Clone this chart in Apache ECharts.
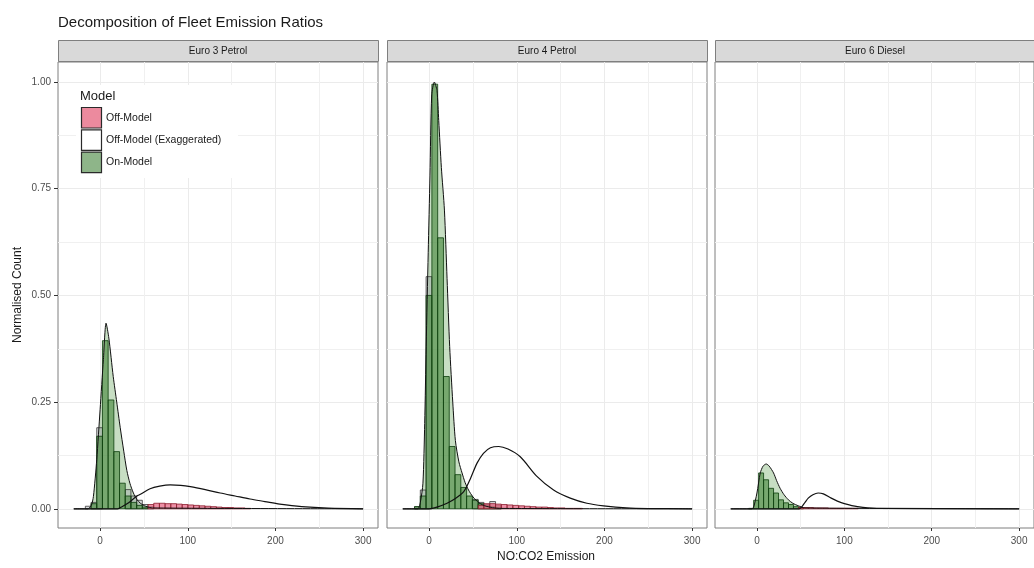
<!DOCTYPE html>
<html>
<head>
<meta charset="utf-8">
<script src="https://cdn.jsdelivr.net/npm/echarts@6/dist/echarts.min.js"></script>
<style>
  html, body { margin: 0; padding: 0; background: #fff; }
  #chart { width: 1034px; height: 568px; }
</style>
</head>
<body>
<div id="chart"></div>
<script>
// ---- data ----
var panelNames = ['Euro 3 Petrol', 'Euro 4 Petrol', 'Euro 6 Diesel'];
var legendNames = ['Off-Model', 'Off-Model (Exaggerated)', 'On-Model'];
var xTicks = [0, 100, 200, 300];
var xMinorTicks = [50, 150, 250];
var yTicks = [0, 0.25, 0.5, 0.75, 1];
var yMinorTicks = [0.125, 0.375, 0.625, 0.875];

// histogram bins: left edge of first bin and bin width, per panel
var binStart = [-16.8, -16.6, -9.5];
var binWidth = [6.5, 6.6, 5.7];

// on-model histogram (green), from first bin
var onBars1 = [0, 0.012, 0.17, 0.394, 0.255, 0.134, 0.06, 0.03, 0.015, 0.008, 0.004];
var onBars2 = [0.005, 0.03, 0.5, 0.995, 0.635, 0.31, 0.146, 0.08, 0.05, 0.03, 0.02, 0.012, 0.008, 0.006, 0.004];
var onBars3 = [0.001, 0.02, 0.084, 0.068, 0.048, 0.037, 0.021, 0.014, 0.01, 0.005, 0.003];
// grey outlined bars, from first bin
var greyBars1 = [0.006, 0.015, 0.19, 0, 0, 0, 0, 0.045, 0.03, 0.02, 0.01, 0.005];
var greyBars2 = [0.005, 0.044, 0.544, 0, 0, 0, 0, 0, 0, 0, 0.022, 0.015, 0.01, 0.017, 0.008];
var greyBars3 = [];
// off-model histogram (pink), starting at bin index offStart
var offStart = [11, 11, 10];
var offBars1 = [0.01, 0.013, 0.013, 0.012, 0.012, 0.011, 0.01, 0.009, 0.008, 0.007, 0.006, 0.005, 0.004, 0.003, 0.003, 0.002, 0.002, 0.001];
var offBars2 = [0.008, 0.012, 0.012, 0.011, 0.01, 0.009, 0.008, 0.007, 0.006, 0.005, 0.004, 0.004, 0.003, 0.002, 0.002, 0.001, 0.001, 0.001];
var offBars3 = [0.003, 0.003, 0.003, 0.002, 0.002, 0.002, 0.001, 0.001, 0.001, 0.001, 0.001, 0.001];

// on-model density (green area)
var onDensX1 = [-30, -14, -10, -7.6, -3.8, 0, 3.8, 6.8, 10, 15, 19, 23, 27, 30.5, 34, 38, 42, 46, 52, 60, 300];
var onDensY1 = [0, 0, 0.008, 0.029, 0.115, 0.232, 0.35, 0.435, 0.40, 0.31, 0.25, 0.19, 0.135, 0.09, 0.06, 0.037, 0.022, 0.013, 0.006, 0.002, 0];
var onDensX2 = [-30, -13, -10, -7, -5, -3.3, -1, 1, 3, 6, 9, 11, 14, 17.5, 20.5, 23.5, 27, 30, 34, 37.6, 41, 45, 50, 57, 65, 80, 300];
var onDensY2 = [0, 0, 0.015, 0.06, 0.2, 0.38, 0.6, 0.78, 0.97, 1.0, 0.98, 0.91, 0.80, 0.70, 0.54, 0.38, 0.25, 0.16, 0.11, 0.084, 0.062, 0.044, 0.028, 0.014, 0.006, 0.001, 0];
var onDensX3 = [-30, -6, -3.8, 0, 3.8, 7, 10.6, 14, 19, 22.5, 26.5, 31, 36, 41, 47.4, 55, 300];
var onDensY3 = [0, 0, 0.004, 0.037, 0.084, 0.1, 0.105, 0.1, 0.084, 0.066, 0.048, 0.033, 0.021, 0.013, 0.007, 0.002, 0];

// off-model (exaggerated) density, black outline
var exDensX1 = [-30, 20, 25, 33, 42, 46, 57, 68, 80, 92, 103, 120, 137, 154, 171, 188, 205, 230, 260, 300];
var exDensY1 = [0, 0, 0.005, 0.015, 0.03, 0.034, 0.047, 0.053, 0.056, 0.055, 0.052, 0.045, 0.037, 0.03, 0.023, 0.017, 0.011, 0.005, 0.0015, 0];
var exDensX2 = [-30, 0, 9, 20.5, 30, 39.5, 47, 54.7, 62, 70, 79.5, 90, 104, 123, 142, 161, 180, 199, 225, 250, 300];
var exDensY2 = [0, 0, 0.004, 0.013, 0.024, 0.04, 0.07, 0.107, 0.13, 0.143, 0.146, 0.14, 0.122, 0.076, 0.044, 0.025, 0.013, 0.007, 0.002, 0.0005, 0];
var exDensX3 = [-30, 48, 51, 55, 58.7, 64, 70, 76, 85, 92, 100, 115, 137, 300];
var exDensY3 = [0, 0, 0.004, 0.015, 0.025, 0.033, 0.037, 0.035, 0.025, 0.018, 0.012, 0.005, 0.001, 0];

var onBars = [onBars1, onBars2, onBars3];
var greyBars = [greyBars1, greyBars2, greyBars3];
var offBars = [offBars1, offBars2, offBars3];
var onDens = [[onDensX1, onDensY1], [onDensX2, onDensY2], [onDensX3, onDensY3]];
var exDens = [[exDensX1, exDensY1], [exDensX2, exDensY2], [exDensX3, exDensY3]];

// ---- layout ----
var panelLeft = [58, 387, 715];
var panelWidth = 320;
var panelTop = 62;
var panelHeight = 466;

var dom = document.getElementById('chart');
var myChart = echarts.init(dom);

function binData(p, heights, offset) {
    var out = [];
    for (var i = 0; i < heights.length; i++) {
        if (!heights[i]) continue;
        var x0 = binStart[p] + (i + offset) * binWidth[p];
        out.push([x0, x0 + binWidth[p], heights[i]]);
    }
    return out;
}

function pairs(xy) {
    return xy[0].map(function (x, i) { return [x, xy[1][i]]; });
}

function barSeries(name, p, data, fill, stroke, z) {
    return {
        name: name,
        type: 'custom',
        xAxisIndex: p * 2,
        yAxisIndex: p * 2,
        z: z,
        silent: true,
        encode: { x: [0, 1], y: 2 },
        renderItem: function (params, api) {
            var a = api.coord([api.value(0), api.value(2)]);
            var b = api.coord([api.value(1), 0]);
            return {
                type: 'rect',
                shape: { x: a[0], y: a[1], width: b[0] - a[0], height: b[1] - a[1] },
                style: { fill: fill, stroke: stroke, lineWidth: 0.8 }
            };
        },
        data: data
    };
}

var grids = [], xAxes = [], yAxes = [], series = [], graphics = [];

for (var p = 0; p < 3; p++) {
    grids.push({
        left: panelLeft[p], top: panelTop, width: panelWidth, height: panelHeight,
        show: true, borderColor: '#7f7f7f', borderWidth: 1, backgroundColor: '#fff'
    });
    // major x axis (labels, ticks, major grid)
    xAxes.push({
        gridIndex: p, type: 'value', min: -48, max: 317, position: 'bottom',
        axisLine: { show: false, onZero: false },
        axisTick: { show: true, length: 3, customValues: xTicks, lineStyle: { color: '#333' } },
        axisLabel: { customValues: xTicks, color: '#4d4d4d', fontSize: 10, margin: 8 },
        splitLine: { show: true, lineStyle: { color: '#ebebeb', width: 1 } }
    });
    // minor x grid
    xAxes.push({
        gridIndex: p, type: 'value', min: -48, max: 317, position: 'bottom',
        axisLine: { show: false, onZero: false },
        axisTick: { show: false, customValues: xMinorTicks },
        axisLabel: { show: false, customValues: xMinorTicks },
        splitLine: { show: true, lineStyle: { color: '#f0f0f0', width: 1 } }
    });
    yAxes.push({
        gridIndex: p, type: 'value', min: -0.045, max: 1.047, position: 'left',
        axisLine: { show: false, onZero: false },
        axisTick: { show: p === 0, length: 4, customValues: yTicks, lineStyle: { color: '#333' } },
        axisLabel: {
            show: p === 0, customValues: yTicks, color: '#4d4d4d', fontSize: 10, margin: 7,
            formatter: function (v) { return v.toFixed(2); }
        },
        splitLine: { show: true, lineStyle: { color: '#ebebeb', width: 1 } }
    });
    yAxes.push({
        gridIndex: p, type: 'value', min: -0.045, max: 1.047, position: 'left',
        axisLine: { show: false, onZero: false },
        axisTick: { show: false, customValues: yMinorTicks },
        axisLabel: { show: false, customValues: yMinorTicks },
        splitLine: { show: true, lineStyle: { color: '#f0f0f0', width: 1 } }
    });

    // green density fill (under the bars)
    series.push({
        name: 'On-Model', type: 'line', xAxisIndex: p * 2, yAxisIndex: p * 2, z: 1,
        data: pairs(onDens[p]), showSymbol: false, smooth: 0.25, silent: true,
        lineStyle: { width: 0 },
        areaStyle: { color: 'rgba(110,170,100,0.55)' }
    });
    series.push(barSeries('grey', p, binData(p, greyBars[p], 0), 'rgba(150,155,160,0.35)', '#3a3a3a', 2));
    series.push(barSeries('On-Model', p, binData(p, onBars[p], 0), 'rgba(70,135,60,0.62)', '#0b3d0b', 3));
    series.push(barSeries('Off-Model', p, binData(p, offBars[p], offStart[p]), 'rgba(230,105,135,0.75)', '#8b1a2b', 3));
    // green density outline
    series.push({
        name: 'On-Model line', type: 'line', xAxisIndex: p * 2, yAxisIndex: p * 2, z: 4,
        data: pairs(onDens[p]), showSymbol: false, smooth: 0.25, silent: true,
        lineStyle: { color: '#111', width: 1 }
    });
    series.push({
        name: 'Off-Model (Exaggerated)', type: 'line', xAxisIndex: p * 2, yAxisIndex: p * 2, z: 5,
        data: pairs(exDens[p]), showSymbol: false, smooth: 0.3, silent: true,
        lineStyle: { color: '#111', width: 1.2 }
    });

    // facet strip
    graphics.push({
        type: 'rect', z: 50,
        shape: { x: panelLeft[p] + 0.5, y: 40.5, width: panelWidth, height: 21 },
        style: { fill: '#d9d9d9', stroke: '#7f7f7f', lineWidth: 1 }
    });
    graphics.push({
        type: 'text', z: 51,
        x: panelLeft[p] + panelWidth / 2, y: 51,
        style: { text: panelNames[p], fill: '#1a1a1a', font: '10px "Liberation Sans", Arial, sans-serif', align: 'center', verticalAlign: 'middle' }
    });
}

// legend (drawn inside first panel)
var keyFill = ['#ec8a9e', '#ffffff', '#8eb589'];
graphics.push({
    type: 'rect', z: 60,
    shape: { x: 76, y: 85, width: 162, height: 93 },
    style: { fill: '#fff' }
});
graphics.push({
    type: 'text', z: 61, x: 80, y: 96,
    style: { text: 'Model', fill: '#1a1a1a', font: '13px "Liberation Sans", Arial, sans-serif', verticalAlign: 'middle' }
});
for (var k = 0; k < legendNames.length; k++) {
    graphics.push({
        type: 'rect', z: 61,
        shape: { x: 81.5, y: 107.5 + k * 22.3, width: 20, height: 20.5 },
        style: { fill: keyFill[k], stroke: '#2a2a2a', lineWidth: 1.2 }
    });
    graphics.push({
        type: 'text', z: 61, x: 106, y: 118 + k * 22.3,
        style: { text: legendNames[k], fill: '#1a1a1a', font: '10.5px "Liberation Sans", Arial, sans-serif', verticalAlign: 'middle' }
    });
}

// axis titles
graphics.push({
    type: 'text', z: 50, x: 546, y: 557,
    style: { text: 'NO:CO2 Emission', fill: '#1a1a1a', font: '12px "Liberation Sans", Arial, sans-serif', align: 'center', verticalAlign: 'middle' }
});
graphics.push({
    type: 'text', z: 50, x: 18, y: 295, rotation: Math.PI / 2,
    style: { text: 'Normalised Count', fill: '#1a1a1a', font: '12px "Liberation Sans", Arial, sans-serif', align: 'center', verticalAlign: 'middle' }
});

var option = {
    animation: false,
    backgroundColor: '#fff',
    title: {
        text: 'Decomposition of Fleet Emission Ratios',
        left: 53, top: 10,
        textStyle: { fontSize: 15, fontWeight: 'normal', color: '#1a1a1a', fontFamily: '"Liberation Sans", Arial, sans-serif' }
    },
    grid: grids,
    xAxis: xAxes,
    yAxis: yAxes,
    series: series,
    graphic: graphics
};

myChart.setOption(option, true);
</script>
</body>
</html>
